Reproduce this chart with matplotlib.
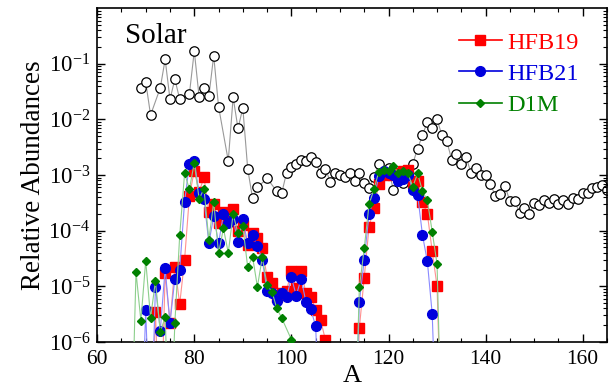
import matplotlib
matplotlib.use("Agg")
import matplotlib.pyplot as plt
from matplotlib.ticker import MultipleLocator, LogLocator, NullFormatter

plt.rcParams['font.family'] = ['Liberation Serif', 'DejaVu Serif']
plt.rcParams['mathtext.fontset'] = 'custom'
plt.rcParams['mathtext.rm'] = 'Liberation Serif'
plt.rcParams['mathtext.it'] = 'Liberation Serif:italic'

# Solar r-abundances (open circles)
solar_A = [69, 70, 71, 73, 74, 75, 76, 77, 79, 80, 81, 82, 83, 84, 85, 87, 88, 89, 90,
           91, 92, 93, 95, 97, 98, 99, 100, 101, 102, 103, 104, 105, 106, 107, 108, 109,
           110, 111, 112, 113, 114, 115, 116, 117, 118, 119, 120, 121, 122, 123, 124, 125,
           126, 127, 128, 129, 130, 131, 132, 133, 134, 135, 136, 137, 138, 139, 140, 141,
           142, 143, 144, 145, 146, 147, 148, 149, 150, 151, 152, 153, 154, 155, 156, 157,
           158, 159, 160, 161, 162, 163, 164, 165]
solar_ab = [0.037, 0.047, 0.012, 0.037, 0.12, 0.023, 0.053, 0.023, 0.029, 0.17, 0.025,
            0.037, 0.026, 0.14, 0.017, 1.8e-3, 0.025, 6.9e-3, 0.016,
            1.3e-3, 3.8e-4, 6.0e-4, 8.7e-4, 5.1e-4, 4.7e-4, 1.1e-3, 1.4e-3, 1.6e-3, 1.9e-3,
            1.8e-3, 2.1e-3, 1.7e-3, 1.07e-3, 1.3e-3, 7.6e-4, 1.1e-3,
            1.0e-3, 9.3e-4, 1.1e-3, 7.8e-4, 1.07e-3, 7.1e-4, 5.9e-4, 9.3e-4, 1.56e-3, 1.2e-3,
            1.35e-3, 5.3e-4, 9.0e-4, 7.1e-4, 1.0e-3, 1.6e-3,
            3.0e-3, 5.2e-3, 9.1e-3, 6.9e-3, 1.0e-2, 5.2e-3, 4.1e-3, 1.9e-3, 2.4e-3, 1.56e-3,
            2.1e-3, 1.07e-3, 1.34e-3, 1.0e-3, 1.0e-3, 6.9e-4,
            4.2e-4, 4.5e-4, 6.3e-4, 3.4e-4, 3.4e-4, 2.1e-4, 2.6e-4, 2.0e-4, 3.1e-4, 2.9e-4,
            3.5e-4, 3.1e-4, 3.7e-4, 3.0e-4, 3.6e-4, 3.0e-4,
            3.9e-4, 3.7e-4, 4.7e-4, 4.7e-4, 5.8e-4, 6.2e-4, 6.6e-4, 5.4e-4]

# model predictions, A = 67..131 (values far below 1e-6 fall off the plot)
model_A = list(range(67, 132))
hfb19 = [1e-8, 1e-8, 1e-8, 1e-8, 1e-8, 3.5e-6, 1e-8, 1.7e-5, 2.2e-6, 2.25e-5,          # 67-76
         4.8e-6, 3.0e-5, 4.2e-4, 1.2e-3, 5.0e-4, 9.1e-4, 2.2e-4, 3.0e-4, 1.4e-4, 2.2e-4,  # 77-86
         1.5e-4, 2.5e-4, 1.0e-4, 1.26e-4, 5.5e-5, 8.9e-5, 7.3e-5, 4.8e-5, 1.45e-5, 1.13e-5,  # 87-96
         6.5e-6, 7.5e-6, 8.3e-6, 1.9e-5, 9.2e-6, 1.9e-5, 7.5e-6, 6.3e-6, 3.8e-6, 2.5e-6,  # 97-106
         1.1e-6, 1e-8, 1e-8, 1e-8, 1e-8, 1e-8, 1e-8, 1.8e-6, 1.43e-5, 1.18e-4,           # 107-116
         2.6e-4, 6.8e-4, 1.0e-3, 1.1e-3, 1.0e-3, 1.1e-3, 1.2e-3, 1.25e-3, 7.3e-4, 7.9e-4,  # 117-126
         3.3e-4, 2.0e-4, 4.3e-5, 1.0e-5, 1e-8]                                           # 127-131
hfb21 = [1e-8, 1e-8, 1e-8, 3.7e-6, 1e-8, 9.8e-6, 1.6e-6, 2.1e-5, 2.2e-6, 1.38e-5,
         2.0e-5, 3.3e-4, 1.6e-3, 1.8e-3, 4.7e-4, 3.7e-4, 6.0e-5, 1.8e-4, 6.0e-5, 1.96e-4,
         1.35e-4, 1.6e-4, 6.3e-5, 1.6e-4, 5.9e-5, 8.3e-5, 5.3e-5, 3.0e-5, 8.3e-6, 7.5e-6,
         5.5e-6, 7.5e-6, 6.3e-6, 1.45e-5, 6.8e-6, 1.38e-5, 5.2e-6, 3.9e-6, 1.9e-6, 1e-8,
         1e-8, 1e-8, 1e-8, 1e-8, 1e-8, 1e-8, 1e-8, 5.2e-6, 3.0e-5, 2.0e-4,
         3.8e-4, 9.5e-4, 1.2e-3, 1.1e-3, 1.0e-3, 7.9e-4, 8.5e-4, 1.0e-3, 5.4e-4, 4.4e-4,
         8.3e-5, 2.8e-5, 3.2e-6, 1e-8, 1e-8]
d1m_A = [a for a in model_A if a != 99]
d1m = [1e-8, 1.8e-5, 2.4e-6, 2.9e-5, 2.7e-6, 1.25e-5, 1.5e-6, 2.8e-6, 1e-8, 2.2e-6,
       8.3e-5, 1.07e-3, 5.6e-4, 1.66e-3, 3.7e-4, 5.7e-4, 6.8e-5, 3.3e-4, 3.9e-5, 1.1e-4,
       4.0e-5, 2.0e-4, 8.9e-5, 1.2e-4, 2.2e-5, 3.4e-5, 9.8e-6, 3.3e-5, 1.05e-5, 8e-6,
       4.0e-6, 2.7e-6, 1.1e-6, 1e-8, 1e-8, 1e-8, 1e-8, 1e-8, 1e-8,      # 97,98,100-106
       1e-8, 1e-8, 1e-8, 1e-8, 1e-8, 1e-8, 1e-8, 9.6e-6, 4.8e-5, 3.0e-4,
       5.5e-4, 1.15e-3, 1.23e-3, 1.2e-3, 1.45e-3, 1.1e-3, 1.2e-3, 1.07e-3, 6.2e-4, 1.07e-3,
       5.1e-4, 3.5e-4, 9.6e-5, 2.5e-5, 1e-8]

fig = plt.figure(figsize=(6.15, 3.89), dpi=100)
ax = fig.add_axes([0.158, 0.121, 0.829, 0.858])

ax.plot(solar_A, solar_ab, '-o', color='#999999', lw=0.8, ms=6.8, mfc='white',
        mec='black', mew=0.9, zorder=1)
ax.plot(model_A, hfb19, '-s', color='#ff9090', lw=0.8, ms=6.5, mfc='#ff0000',
        mec='#ff0000', zorder=2, label='HFB19')
ax.plot(model_A, hfb21, '-o', color='#8a8aff', lw=0.8, ms=7, mfc='#0000dd',
        mec='#0000dd', zorder=3, label='HFB21')
ax.plot(d1m_A, d1m, '-D', color='#8ccf8c', lw=0.8, ms=4.5, mfc='#008000',
        mec='#008000', zorder=4, label='D1M')

ax.set_yscale('log')
ax.set_xlim(60, 165)
ax.set_ylim(1e-6, 1)
ax.set_yticks([1e-6, 1e-5, 1e-4, 1e-3, 1e-2, 1e-1])
ax.yaxis.set_minor_locator(LogLocator(base=10, subs=range(2, 10), numticks=20))
ax.yaxis.set_minor_formatter(NullFormatter())
ax.xaxis.set_major_locator(MultipleLocator(20))
ax.xaxis.set_minor_locator(MultipleLocator(5))
ax.tick_params(which='both', direction='in', top=True, right=True)
ax.tick_params(axis='x', labelsize=15.5, pad=6)
ax.tick_params(axis='y', labelsize=16.5, pad=5)
ax.tick_params(which='major', length=6, width=1)
ax.tick_params(which='minor', length=3, width=0.8)
for s in ax.spines.values():
    s.set_linewidth(1.2)

ax.set_xlabel('A', fontsize=19, labelpad=-3)
ax.set_ylabel('Relative Abundances', fontsize=19.5, labelpad=2)
ax.text(0.055, 0.955, 'Solar', transform=ax.transAxes, fontsize=21, va='top', ha='left')

leg = ax.legend(loc='upper left', bbox_to_anchor=(0.71, 0.93), frameon=False,
                fontsize=17.5, handlelength=1.75, handletextpad=0.25, labelspacing=0.38,
                borderpad=0, borderaxespad=0)
for t, c in zip(leg.get_texts(), ['#ff0000', '#0000dd', '#008000']):
    t.set_color(c)
for h, c in zip(leg.get_lines(), ['#ff0000', '#0000dd', '#008000']):
    h.set_color(c)
    h.set_linewidth(1.2)

fig.savefig('out.png', dpi=100)
